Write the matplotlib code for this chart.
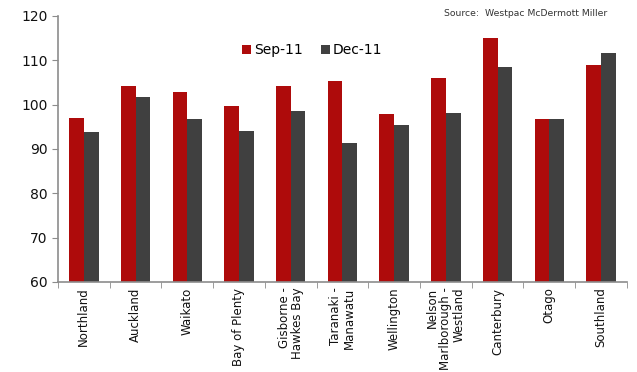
import numpy as np
import matplotlib.pyplot as plt

regions = ['Northland', 'Auckland', 'Waikato', 'Bay of Plenty',
           'Gisborne -\nHawkes Bay', 'Taranaki -\nManawatu', 'Wellington',
           'Nelson\nMarlborough -\nWestland', 'Canterbury', 'Otago', 'Southland']
sep_11 = [97.0, 104.2, 102.8, 99.7, 104.2, 105.3, 97.8, 106.0, 115.0, 96.7, 109.0]
dec_11 = [93.9, 101.7, 96.8, 94.1, 98.6, 91.3, 95.3, 98.2, 108.5, 96.7, 111.6]

red = '#ae0b0b'
dark = '#404040'
axis_col = '#8c8c8c'

fig = plt.figure(figsize=(6.37, 3.72), dpi=100)
ax = fig.add_axes([0.091, 0.242, 0.893, 0.715])

x = np.arange(len(regions))
w = 0.285
ax.bar(x - w / 2, sep_11, w, color=red, label='Sep-11')
ax.bar(x + w / 2, dec_11, w, color=dark, label='Dec-11')

ax.set_ylim(60, 120)
ax.set_yticks(range(60, 121, 10))
ax.set_xlim(-0.5, len(regions) - 0.5)
ax.set_xticks(x)
ax.set_xticklabels(regions, rotation=90, fontsize=8.5, color='#111111',
                   multialignment='right', linespacing=1.0)
ax.set_xticks(np.arange(-0.5, len(regions)), minor=True)
ax.tick_params(axis='x', which='major', length=0, pad=4)
ax.tick_params(axis='x', which='minor', length=4, direction='out', color=axis_col)
ax.tick_params(axis='y', length=4, direction='out', colors=axis_col,
               labelsize=10, labelcolor='#111111')

for s in ['top', 'right']:
    ax.spines[s].set_visible(False)
for s in ['left', 'bottom']:
    ax.spines[s].set_color(axis_col)
    ax.spines[s].set_linewidth(1.2)

fig.legend(loc='center', bbox_to_anchor=(0.49, 0.865), ncol=2, frameon=False,
           fontsize=10, handlelength=0.65, handleheight=0.65, handletextpad=0.2,
           columnspacing=1.3)

fig.text(0.953, 0.965, 'Source:  Westpac McDermott Miller', fontsize=6.7,
         ha='right', va='center', color='#333333')

fig.savefig('out.png', dpi=100)
